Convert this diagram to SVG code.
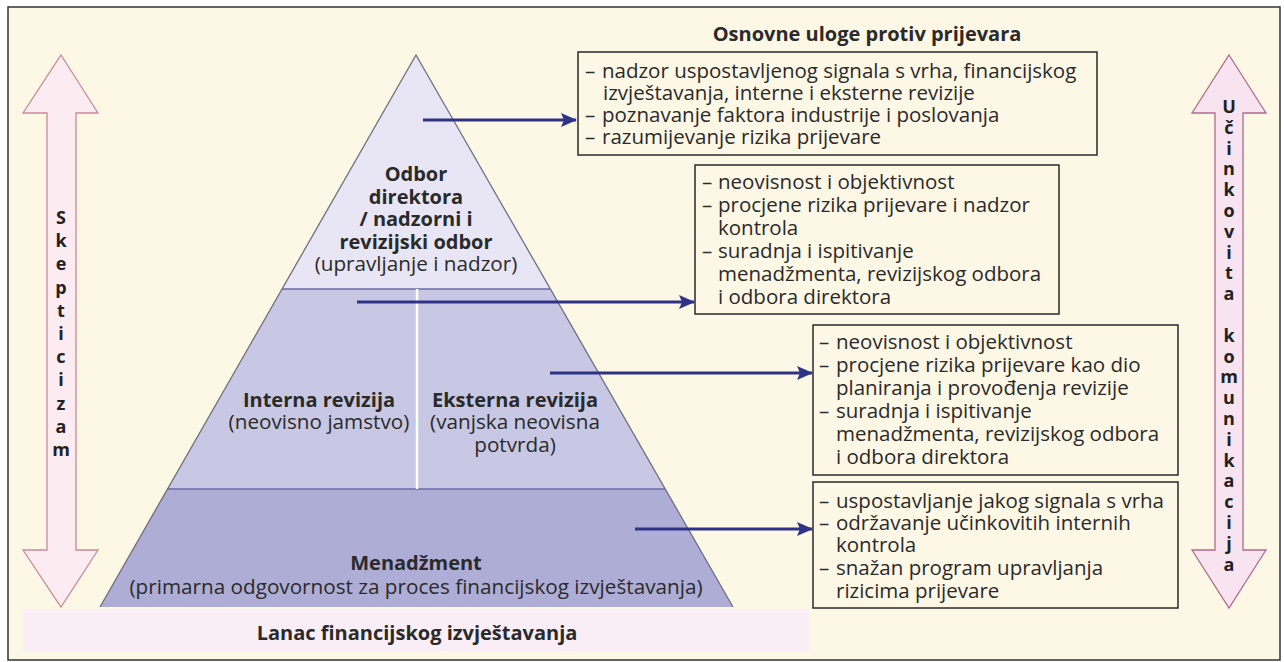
<svg xmlns="http://www.w3.org/2000/svg" width="1284" height="662" viewBox="0 0 1284 662">
<defs>
<marker id="ah" viewBox="0 0 16 14" refX="15" refY="7" markerWidth="16" markerHeight="14" markerUnits="userSpaceOnUse" orient="auto">
<path d="M0,0 L16,7 L0,14 L3,7 Z" fill="#2f3388"/>
</marker>
<style>
text{font-family:"Open Sans","Liberation Sans",sans-serif;fill:#2a2a2a;}
.p{font-size:20.7px;text-anchor:middle;}
.b{font-weight:bold;font-size:20px;}
.r{font-weight:normal;font-size:20.7px;}
.t{font-size:20.5px;}
.v{font-size:18px;font-weight:bold;text-anchor:middle;fill:#222;}
.box{fill:none;stroke:#2a2a2a;stroke-width:1.5;}
.conn{stroke:#2f3388;stroke-width:3;fill:none;marker-end:url(#ah);}
</style>
</defs>
<rect x="8" y="7" width="1272" height="653" fill="#fdf7e6" stroke="#333" stroke-width="1.5"/>

<g id="skepticizam">
<path d="M61,55 L98,113 L76,113 L76,550 L98,550 L61,607 L23,550 L47,550 L47,113 L23,113 Z" fill="#fcebf1" stroke="#c98a98" stroke-width="1.3"/>
<text class="v" x="61" y="224"><tspan x="61">S</tspan><tspan x="61" dy="23.2">k</tspan><tspan x="61" dy="23.2">e</tspan><tspan x="61" dy="23.2">p</tspan><tspan x="61" dy="23.2">t</tspan><tspan x="61" dy="23.2">i</tspan><tspan x="61" dy="23.2">c</tspan><tspan x="61" dy="23.2">i</tspan><tspan x="61" dy="23.2">z</tspan><tspan x="61" dy="23.2">a</tspan><tspan x="61" dy="23.2">m</tspan></text>
</g>

<g id="komunikacija">
<path d="M1229,55 L1266,113 L1243,113 L1243,550 L1266,550 L1229,608 L1192,550 L1215,550 L1215,113 L1192,113 Z" fill="#f8e4f0" stroke="#b06a8c" stroke-width="1.3"/>
<text class="v" x="1229" y="113"><tspan x="1229">U</tspan><tspan x="1229" dy="20.8">č</tspan><tspan x="1229" dy="20.8">i</tspan><tspan x="1229" dy="20.8">n</tspan><tspan x="1229" dy="20.8">k</tspan><tspan x="1229" dy="20.8">o</tspan><tspan x="1229" dy="20.8">v</tspan><tspan x="1229" dy="20.8">i</tspan><tspan x="1229" dy="20.8">t</tspan><tspan x="1229" dy="20.8">a</tspan><tspan x="1229" dy="41.6">k</tspan><tspan x="1229" dy="20.8">o</tspan><tspan x="1229" dy="20.8">m</tspan><tspan x="1229" dy="20.8">u</tspan><tspan x="1229" dy="20.8">n</tspan><tspan x="1229" dy="20.8">i</tspan><tspan x="1229" dy="20.8">k</tspan><tspan x="1229" dy="20.8">a</tspan><tspan x="1229" dy="20.8">c</tspan><tspan x="1229" dy="20.8">i</tspan><tspan x="1229" dy="20.8">j</tspan><tspan x="1229" dy="20.8">a</tspan></text>
</g>

<g id="lanac">
<rect x="23" y="609" width="786" height="42" fill="#f9eef6"/>
<text class="p b" x="417" y="640">Lanac financijskog izvještavanja</text>
</g>

<g id="pyramid">
<polygon points="416,55 100,607 733,607" fill="#e8e6f5"/>
<polygon points="282,289 550,289 733,607 100,607" fill="#c8c8e4"/>
<polygon points="167.5,489 665,489 733,607 100,607" fill="#aeadd6"/>
<line x1="282" y1="289" x2="550" y2="289" stroke="#6c6aa8" stroke-width="1.5"/>
<line x1="167.5" y1="489" x2="665" y2="489" stroke="#6c6aa8" stroke-width="1.5"/>
<line x1="417" y1="289" x2="417" y2="489" stroke="#ffffff" stroke-width="2.5"/>
<polyline points="100,607 416,55 733,607" fill="none" stroke="#6e6e80" stroke-width="1.3"/>
</g>

<g id="odbor">
<text class="p b" x="416" y="181"><tspan x="416" y="181">Odbor</tspan><tspan x="416" y="204">direktora</tspan><tspan x="416" y="226">/ nadzorni i</tspan><tspan x="416" y="249">revizijski odbor</tspan><tspan class="r" x="416" y="271">(upravljanje i nadzor)</tspan></text>
</g>
<g id="interna">
<text class="p b" x="319" y="407"><tspan x="319" y="407">Interna revizija</tspan><tspan class="r" x="319" y="429">(neovisno jamstvo)</tspan></text>
</g>
<g id="eksterna">
<text class="p b" x="515" y="407"><tspan x="515" y="407">Eksterna revizija</tspan><tspan class="r" x="515" y="429">(vanjska neovisna</tspan><tspan class="r" x="515" y="452">potvrda)</tspan></text>
</g>
<g id="menadzment">
<text class="p b" x="416" y="570"><tspan x="416" y="570">Menadžment</tspan><tspan class="r" x="416" y="594">(primarna odgovornost za proces financijskog izvještavanja)</tspan></text>
</g>

<g id="title">
<text class="p b" x="867" y="41">Osnovne uloge protiv prijevara</text>
</g>

<g id="box1">
<rect class="box" x="578" y="52" width="519" height="103"/>
<text class="t" x="585" y="78"><tspan x="585" y="78">–</tspan><tspan x="602" y="78">nadzor uspostavljenog signala s vrha, financijskog</tspan><tspan x="603" y="100">izvještavanja, interne i eksterne revizije</tspan><tspan x="585" y="122">–</tspan><tspan x="602" y="122">poznavanje faktora industrije i poslovanja</tspan><tspan x="585" y="144">–</tspan><tspan x="602" y="144">razumijevanje rizika prijevare</tspan></text>
</g>

<g id="box2">
<rect class="box" x="695" y="165" width="364" height="149"/>
<text class="t" x="702" y="189"><tspan x="702" y="189">–</tspan><tspan x="718" y="189">neovisnost i objektivnost</tspan><tspan x="702" y="212">–</tspan><tspan x="718" y="212">procjene rizika prijevare i nadzor</tspan><tspan x="718" y="235">kontrola</tspan><tspan x="702" y="258">–</tspan><tspan x="718" y="258">suradnja i ispitivanje</tspan><tspan x="718" y="281">menadžmenta, revizijskog odbora</tspan><tspan x="718" y="304">i odbora direktora</tspan></text>
</g>

<g id="box3">
<rect class="box" x="813" y="325" width="365" height="150"/>
<text class="t" x="819" y="349"><tspan x="819" y="349">–</tspan><tspan x="836" y="349">neovisnost i objektivnost</tspan><tspan x="819" y="372">–</tspan><tspan x="836" y="372">procjene rizika prijevare kao dio</tspan><tspan x="836" y="395">planiranja i provođenja revizije</tspan><tspan x="819" y="418">–</tspan><tspan x="836" y="418">suradnja i ispitivanje</tspan><tspan x="836" y="441">menadžmenta, revizijskog odbora</tspan><tspan x="836" y="464">i odbora direktora</tspan></text>
</g>

<g id="box4">
<rect class="box" x="813" y="482" width="365" height="126"/>
<text class="t" x="819" y="508"><tspan x="819" y="508">–</tspan><tspan x="836" y="508">uspostavljanje jakog signala s vrha</tspan><tspan x="819" y="530">–</tspan><tspan x="836" y="530">održavanje učinkovitih internih</tspan><tspan x="836" y="552">kontrola</tspan><tspan x="819" y="575">–</tspan><tspan x="836" y="575">snažan program upravljanja</tspan><tspan x="836" y="598">rizicima prijevare</tspan></text>
</g>

<g id="connectors">
<line class="conn" x1="423" y1="120" x2="576" y2="120"/>
<line class="conn" x1="357" y1="302" x2="694" y2="302"/>
<line class="conn" x1="550" y1="373" x2="812" y2="373"/>
<line class="conn" x1="635" y1="529" x2="812" y2="529"/>
</g>
</svg>
